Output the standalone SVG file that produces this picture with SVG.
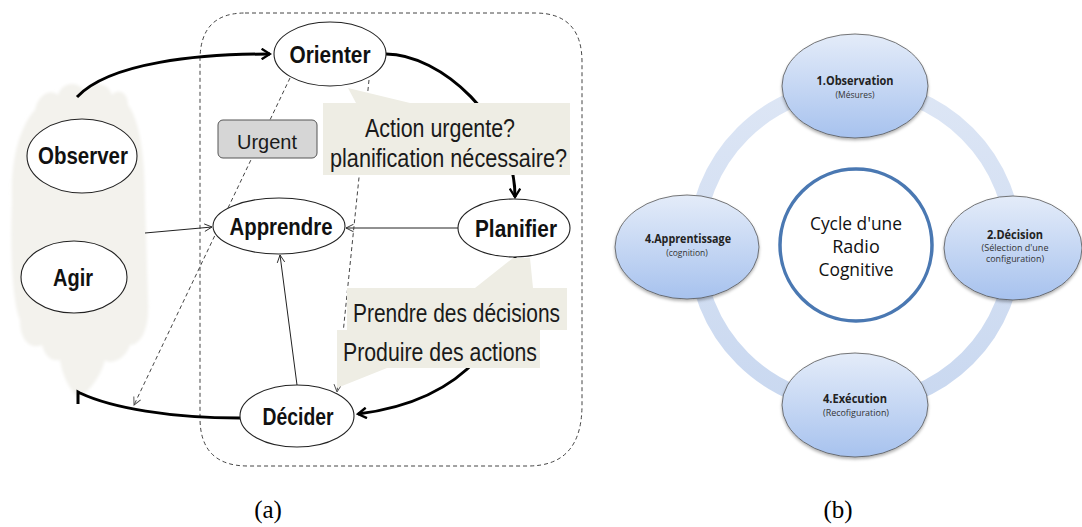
<svg xmlns="http://www.w3.org/2000/svg" width="1082" height="527" viewBox="0 0 1082 527">
  <style>
    .node { fill: #ffffff; stroke: #222; stroke-width: 1.1; }
    .lbl { font-family: "Liberation Sans", Arial, sans-serif; font-weight: bold; fill: #111; text-anchor: middle; }
    .note { font-family: "Liberation Sans", Arial, sans-serif; fill: #1a1a1a; text-anchor: start; }
    .bubble { fill: #eeede4; stroke: none; }
    .thick { fill: none; stroke: #000; stroke-width: 3; }
    .thin { fill: none; stroke: #222; stroke-width: 1; }
    .dash { fill: none; stroke: #444; stroke-width: 1; stroke-dasharray: 4 3; }
    .cap { font-family: "Liberation Serif", "Times New Roman", serif; font-size: 25px; fill: #000; text-anchor: middle; }
    .step { fill: url(#stepFill); stroke: #555; stroke-width: 0.8; filter: url(#shade); }
    .stepT { font-family: "Open Sans", "Liberation Sans", sans-serif; font-weight: bold; font-size: 11.5px; fill: #222; text-anchor: middle; }
    .stepS { font-family: "Open Sans", "Liberation Sans", sans-serif; font-size: 8.5px; fill: #333; text-anchor: middle; }
    .core { font-family: "Open Sans", "Liberation Sans", sans-serif; font-size: 18px; fill: #111; text-anchor: middle; }
  </style>
  <defs>
    <marker id="headThick" viewBox="0 0 12 12" refX="10" refY="6" markerWidth="4.2" markerHeight="4.2" orient="auto" markerUnits="strokeWidth">
      <path d="M2 1 L10 6 L2 11" fill="none" stroke="#000" stroke-width="2.2"/>
    </marker>
    <marker id="headThin" viewBox="0 0 12 12" refX="11" refY="6" markerWidth="9" markerHeight="9" orient="auto" markerUnits="userSpaceOnUse">
      <path d="M1 1 L11 6 L1 11" fill="none" stroke="#222" stroke-width="1.2"/>
    </marker>
    <marker id="headDash" viewBox="0 0 12 12" refX="11" refY="6" markerWidth="9" markerHeight="9" orient="auto" markerUnits="userSpaceOnUse">
      <path d="M1 1 L11 6 L1 11" fill="none" stroke="#444" stroke-width="1.2"/>
    </marker>
    <linearGradient id="stepFill" x1="0" y1="0" x2="0" y2="1">
      <stop offset="0" stop-color="#e4ecf9"/>
      <stop offset="1" stop-color="#a7c2ee"/>
    </linearGradient>
    <linearGradient id="ringFill" x1="0" y1="0" x2="0" y2="1">
      <stop offset="0" stop-color="#dde6f5"/>
      <stop offset="1" stop-color="#c9d8f0"/>
    </linearGradient>
    <filter id="shade" x="-20%" y="-20%" width="140%" height="150%">
      <feDropShadow dx="0" dy="2" stdDeviation="1.5" flood-color="#000" flood-opacity="0.3"/>
    </filter>
    <filter id="soft" x="-10%" y="-10%" width="120%" height="120%">
      <feGaussianBlur stdDeviation="1.5"/>
    </filter>
  </defs>

  <!-- (a) OODA-style loop -->
  <!-- environment cloud behind Observer / Agir -->
  <path id="environment" fill="#f3f2ed" filter="url(#soft)" d="M 12 200 C 10 150 25 120 35 110 C 38 95 50 88 58 95 C 62 82 78 80 85 92 C 92 80 108 82 112 95 C 118 88 128 92 128 105 C 140 120 145 160 145 200 L 148 300 C 150 330 140 345 130 345 C 125 360 110 365 105 360 C 100 380 85 395 78 398 C 70 390 62 375 60 360 C 50 362 45 355 42 345 C 30 350 20 340 20 320 C 12 300 10 250 12 200 Z"/>

  <!-- cognitive boundary -->
  <path id="boundary" class="dash" stroke="#333" d="M 245 13 H 535 Q 582 13 582 62 V 405 Q 582 466 528 466 H 248 Q 200 466 200 418 V 60 Q 200 13 245 13 Z"/>

  <g id="connectors">
    <path class="thick" marker-end="url(#headThick)" d="M 77 97 C 110 62 200 54 270 54"/>
    <path class="thick" marker-end="url(#headThick)" d="M 386 54 C 440 54 515 120 515 197"/>
    <path class="thick" marker-end="url(#headThick)" d="M 515 257 C 515 330 470 400 358 414"/>
    <path class="thick" d="M 240 418 C 170 418 112 408 80 393 L 78 392 L 78 404"/>
    <path class="thin" marker-end="url(#headThin)" d="M 458 228 L 346 228"/>
    <path class="thin" marker-end="url(#headThin)" d="M 145 233 L 212 227"/>
    <path class="thin" marker-end="url(#headThin)" d="M 297 385 L 280 255"/>
    <path class="dash" marker-end="url(#headDash)" d="M 290 78 L 134 405"/>
    <path class="dash" marker-end="url(#headDash)" d="M 369 80 L 337 392"/>
  </g>

  <!-- call-out notes -->
  <g id="note-orienter">
    <polygon class="bubble" points="348,88 356,103 410,103"/>
    <rect class="bubble" x="323" y="103" width="247" height="72"/>
    <text class="note" x="365" y="137" font-size="26" textLength="150" lengthAdjust="spacingAndGlyphs">Action urgente?</text>
    <text class="note" x="330" y="167" font-size="26" textLength="237" lengthAdjust="spacingAndGlyphs">planification nécessaire?</text>
  </g>
  <g id="note-planifier">
    <polygon class="bubble" points="513,258 530,258 533,288 475,288"/>
    <polygon class="bubble" points="337,368 387,368 337,388"/>
    <rect class="bubble" x="347" y="288" width="220" height="42"/>
    <rect class="bubble" x="337" y="330" width="203" height="38"/>
    <text class="note" x="353" y="322" font-size="26" textLength="207" lengthAdjust="spacingAndGlyphs">Prendre des décisions</text>
    <text class="note" x="343" y="361" font-size="26" textLength="194" lengthAdjust="spacingAndGlyphs">Produire des actions</text>
  </g>

  <g id="urgent">
    <rect x="218" y="120" width="99" height="38" rx="5" fill="#d6d6d6" stroke="#555" stroke-width="1"/>
    <text class="note" x="267" y="149" font-size="21" textLength="60" lengthAdjust="spacingAndGlyphs" style="text-anchor:middle">Urgent</text>
  </g>

  <g id="observer">
    <ellipse class="node" cx="82" cy="156" rx="55" ry="37"/>
    <text class="lbl" x="83" y="164" font-size="24" textLength="90" lengthAdjust="spacingAndGlyphs">Observer</text>
  </g>
  <g id="agir">
    <ellipse class="node" cx="74" cy="277" rx="53" ry="36"/>
    <text class="lbl" x="73" y="286" font-size="24" textLength="40" lengthAdjust="spacingAndGlyphs">Agir</text>
  </g>
  <g id="orienter">
    <ellipse class="node" cx="330" cy="54" rx="56" ry="32"/>
    <text class="lbl" x="330" y="63" font-size="24" textLength="81" lengthAdjust="spacingAndGlyphs">Orienter</text>
  </g>
  <g id="apprendre">
    <ellipse class="node" cx="279" cy="226" rx="66" ry="28"/>
    <text class="lbl" x="281" y="235" font-size="24" textLength="103" lengthAdjust="spacingAndGlyphs">Apprendre</text>
  </g>
  <g id="planifier">
    <ellipse class="node" cx="514" cy="228" rx="56" ry="29"/>
    <text class="lbl" x="516" y="237" font-size="24" textLength="82" lengthAdjust="spacingAndGlyphs">Planifier</text>
  </g>
  <g id="decider">
    <ellipse class="node" cx="297" cy="416" rx="57" ry="31"/>
    <text class="lbl" x="298" y="425" font-size="24" textLength="71" lengthAdjust="spacingAndGlyphs">Décider</text>
  </g>

  <text class="cap" x="268" y="518">(a)</text>

  <!-- (b) cognitive radio cycle -->
  <g id="cycle-ring">
    <circle cx="855" cy="246" r="159" fill="none" stroke="url(#ringFill)" stroke-width="16"/>
  </g>
  <g id="core">
    <circle cx="856" cy="245" r="76" fill="#ffffff" stroke="#4a78b2" stroke-width="3.5"/>
    <text class="core" x="856" y="230" textLength="92" lengthAdjust="spacingAndGlyphs">Cycle d'une</text>
    <text class="core" x="856" y="253">Radio</text>
    <text class="core" x="856" y="276" textLength="75" lengthAdjust="spacingAndGlyphs">Cognitive</text>
  </g>
  <g id="observation">
    <ellipse class="step" cx="855" cy="86" rx="73" ry="52"/>
    <text class="stepT" x="855" y="85" textLength="77" lengthAdjust="spacingAndGlyphs">1.Observation</text>
    <text class="stepS" x="855" y="98">(Mésures)</text>
  </g>
  <g id="decision">
    <ellipse class="step" cx="1013" cy="248" rx="69" ry="52"/>
    <text class="stepT" x="1015" y="239" textLength="56" lengthAdjust="spacingAndGlyphs">2.Décision</text>
    <text class="stepS" x="1015" y="251" textLength="67" lengthAdjust="spacingAndGlyphs">(Sélection d'une</text>
    <text class="stepS" x="1015" y="262" textLength="58" lengthAdjust="spacingAndGlyphs">configuration)</text>
  </g>
  <g id="apprentissage">
    <ellipse class="step" cx="687" cy="247" rx="72" ry="52"/>
    <text class="stepT" x="688" y="243" textLength="86" lengthAdjust="spacingAndGlyphs">4.Apprentissage</text>
    <text class="stepS" x="687" y="256">(cognition)</text>
  </g>
  <g id="execution">
    <ellipse class="step" cx="855" cy="405" rx="73" ry="52"/>
    <text class="stepT" x="855" y="403" textLength="64" lengthAdjust="spacingAndGlyphs">4.Exécution</text>
    <text class="stepS" x="856" y="416" textLength="66" lengthAdjust="spacingAndGlyphs">(Recofiguration)</text>
  </g>

  <text class="cap" x="838" y="518">(b)</text>
</svg>
